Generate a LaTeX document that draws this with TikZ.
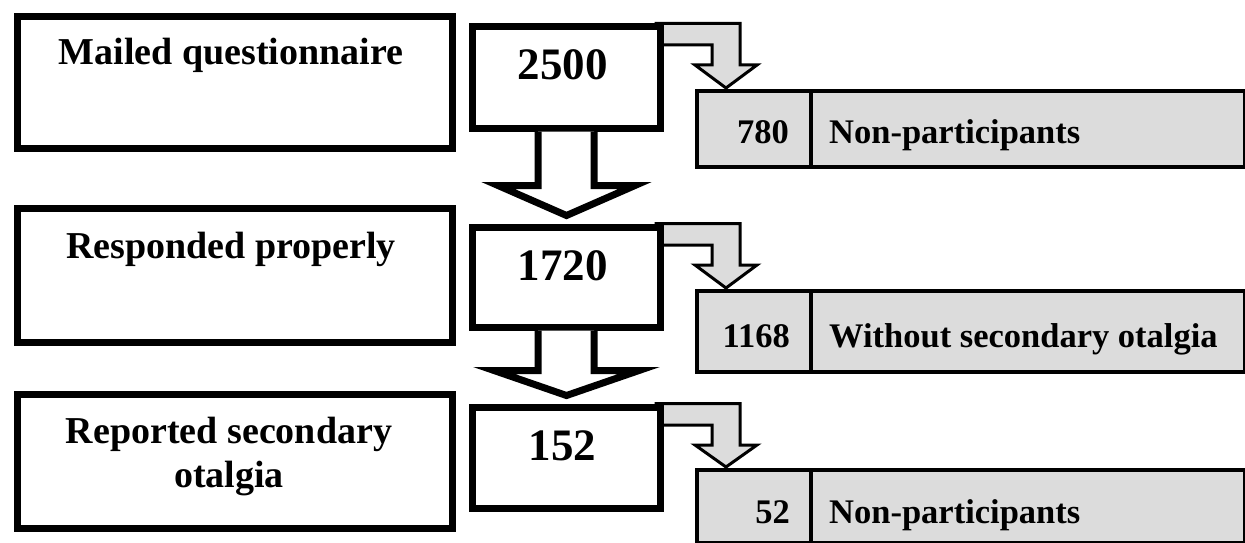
\documentclass[tikz,border=0pt]{standalone}
\usepackage{fontspec}
\setmainfont{Liberation Serif}
\usetikzlibrary{calc}
\definecolor{boxgray}{RGB}{220,220,220}
\begin{document}
\begin{tikzpicture}[x=1pt,y=-1pt,
  bigbox/.style={draw=black, line width=7pt, fill=white, inner sep=0pt, anchor=north west},
  sidebox/.style={draw=black, line width=4pt, fill=boxgray, inner sep=0pt, anchor=north west},
  grayarrow/.style={draw=black, fill=boxgray, line width=3pt, line join=miter},
  downarrow/.style={draw=black, line width=7pt, fill=white, line join=miter},
  lefttext/.style={font=\fontsize{38}{38}\selectfont\bfseries, inner sep=0pt, anchor=base},
  numtext/.style={font=\fontsize{45}{45}\selectfont\bfseries, inner sep=0pt, anchor=base},
  sidenum/.style={font=\fontsize{34.5}{34.5}\selectfont\bfseries, inner sep=0pt, anchor=base east},
  sidelabel/.style={font=\fontsize{34.5}{34.5}\selectfont\bfseries, inner sep=0pt, anchor=base west}
]
\useasboundingbox (0,0) rectangle (1245,543);

% gray side arrows (drawn first, boxes overlap their ends)
\draw[grayarrow] (656,23.5) -- (740,23.5) -- (740,65) -- (757,65) -- (726,88) -- (695,65) -- (712,65) -- (712,45) -- (656,45) -- cycle;
\draw[grayarrow] (656,223.5) -- (740,223.5) -- (740,265) -- (757,265) -- (726,288) -- (695,265) -- (712,265) -- (712,245) -- (656,245) -- cycle;
\draw[grayarrow] (656,403.5) -- (740,403.5) -- (740,445) -- (757,445) -- (726,467) -- (695,445) -- (712,445) -- (712,425) -- (656,425) -- cycle;

% left boxes
\node[bigbox, minimum width=435pt, minimum height=131pt] (mailed) at (13.5,13.5) {};
\node[bigbox, minimum width=435pt, minimum height=133.5pt] (resp) at (13.5,205) {};
\node[bigbox, minimum width=435pt, minimum height=134pt] (rep) at (13.5,390.5) {};
\node[lefttext] (tmailed) at (231,65) {Mailed questionnaire};
\node[lefttext] (tresp) at (231,258) {Responded properly};
\node[lefttext] (trep1) at (229,443) {Reported secondary};
\node[lefttext] (trep2) at (229,487) {otalgia};

% middle number boxes
\node[bigbox, minimum width=188pt, minimum height=101pt] (n2500) at (468.5,23.5) {};
\node[bigbox, minimum width=188pt, minimum height=100pt] (n1720) at (468.5,223.5) {};
\node[bigbox, minimum width=188pt, minimum height=101pt] (n152) at (468.5,403.5) {};
\node[numtext] (t2500) at (562.5,80) {2500};
\node[numtext] (t1720) at (562.5,280) {1720};
\node[numtext] (t152) at (562.5,460) {152};

% right side boxes
\node[sidebox, minimum width=114pt, minimum height=76pt] (s780) at (695,89) {};
\node[sidebox, minimum width=434pt, minimum height=76pt] (l780) at (809,89) {};
\node[sidebox, minimum width=114pt, minimum height=81pt] (s1168) at (695,289) {};
\node[sidebox, minimum width=434pt, minimum height=81pt] (l1168) at (809,289) {};
\node[sidebox, minimum width=114pt, minimum height=73pt] (s52) at (695,468) {};
\node[sidebox, minimum width=434pt, minimum height=73pt] (l52) at (809,468) {};
\node[sidenum] (t780) at (789,143) {780};
\node[sidelabel] (tl780) at (829,143) {Non-participants};
\node[sidenum] (t1168) at (790,347) {1168};
\node[sidelabel] (tl1168) at (829,347) {Without secondary otalgia};
\node[sidenum] (t52) at (790,523) {52};
\node[sidelabel] (tl52) at (829,523) {Non-participants};

% big down arrows
\draw[downarrow] ($(n2500.south)+(-28,0)$) -- ($(n2500.south)+(-28,54)$) -- ($(n2500.south)+(-68,54)$)
  -- ($(n1720.north)+(0.5,-8)$) -- ($(n2500.south)+(69,54)$) -- ($(n2500.south)+(28,54)$) -- ($(n2500.south)+(28,0)$);
\draw[downarrow] ($(n1720.south)+(-28,0)$) -- ($(n1720.south)+(-28,40)$) -- ($(n1720.south)+(-72,40)$)
  -- ($(n152.north)+(0.5,-8)$) -- ($(n1720.south)+(73,40)$) -- ($(n1720.south)+(28,40)$) -- ($(n1720.south)+(28,0)$);
\end{tikzpicture}
\end{document}
